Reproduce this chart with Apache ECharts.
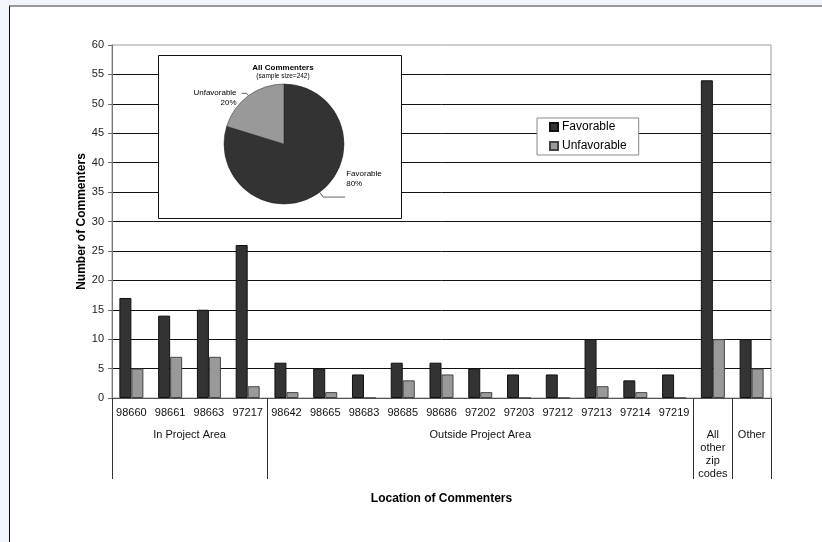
<!DOCTYPE html>
<html>
<head>
<meta charset="utf-8">
<script src="https://cdn.jsdelivr.net/npm/echarts@6/dist/echarts.min.js"></script>
<style>
  html, body { margin: 0; padding: 0; background: #f2f5fc; }
  #frame { position: absolute; left: 9px; top: 5px; width: 813px; height: 537px;
           background: #fff; border-left: 1px solid #111; border-top: 2px solid #9a9a9a; box-sizing: border-box; }
  #chart { position: absolute; left: 0; top: 0; width: 822px; height: 542px; }
</style>
</head>
<body>
<div id="frame"></div>
<div id="chart"></div>
<script>
// Commenters by zip code
const categories = ['98660', '98661', '98663', '97217', '98642', '98665', '98683', '98685', '98686',
  '97202', '97203', '97212', '97213', '97214', '97219', 'All other zip codes', 'Other'];
const favorable = [17, 14, 15, 26, 6, 5, 4, 6, 6, 5, 4, 4, 10, 3, 4, 54, 10];
const unfavorable = [5, 7, 7, 2, 1, 1, 0, 3, 4, 1, 0, 0, 2, 1, 0, 10, 5];
// categories that carry no zip label on the first axis row
const zipLabelHidden = ['All other zip codes', 'Other'];

// location groups along the bottom (boundaries in category units)
const groupNames = ['In Project Area', 'Outside Project Area', 'All\nother\nzip\ncodes', 'Other'];
const groupEdges = [0, 4, 15, 16, 17];

// overall split for the inset pie
const pieNames = ['Favorable', 'Unfavorable'];
const pieValues = [193, 49];

const yMin = 0, yMax = 60, yStep = 5;

const groupMids = groupNames.map((_, i) => (groupEdges[i] + groupEdges[i + 1]) / 2);
const FONT = 'Liberation Sans, Arial, sans-serif';
const DARK = '#333333', LIGHT = '#999999';

// leader line lengths per pie slice
const pieLineLen = [{ length: 6, length2: 22 }, { length: 3, length2: 5 }];

const chart = echarts.init(document.getElementById('chart'));
chart.setOption({
  animation: false,
  textStyle: { fontFamily: FONT },
  grid: { left: 112, right: 51, top: 45, bottom: 144, show: true, borderColor: '#9a9a9a', borderWidth: 1 },
  legend: {
    data: pieNames,
    orient: 'vertical',
    left: 537, top: 118,
    padding: [3, 12, 3, 12],
    itemWidth: 8, itemHeight: 8, itemGap: 7,
    icon: 'rect',
    backgroundColor: '#fff',
    borderColor: '#888', borderWidth: 1,
    textStyle: { fontSize: 12, color: '#000', fontFamily: FONT, padding: [0, 0, 0, -1] }
  },
  title: {
    text: 'All Commenters',
    subtext: '(sample size=242)',
    left: 278, top: 59,
    textAlign: 'center',
    itemGap: 1,
    textStyle: { fontSize: 8, fontWeight: 'bold', color: '#000', fontFamily: FONT },
    subtextStyle: { fontSize: 6.5, color: '#000', fontFamily: FONT }
  },
  xAxis: [
    {
      type: 'category',
      data: categories,
      position: 'bottom',
      axisLine: { lineStyle: { color: '#555', width: 1 } },
      axisTick: { length: 22, lineStyle: { color: '#444' } },
      axisLabel: {
        interval: 0, margin: 9, fontSize: 11, color: '#111', fontFamily: FONT,
        formatter: v => zipLabelHidden.includes(v) ? '' : v
      }
    },
    {
      type: 'value',
      min: groupEdges[0], max: groupEdges[groupEdges.length - 1],
      position: 'bottom',
      axisLine: { show: false },
      splitLine: { show: false },
      axisTick: { show: true, customValues: groupEdges, length: 81, lineStyle: { color: '#333' } },
      axisLabel: {
        customValues: groupMids, margin: 30, fontSize: 11, lineHeight: 13, color: '#111', fontFamily: FONT,
        formatter: v => groupNames[groupMids.indexOf(v)]
      },
      name: 'Location of Commenters',
      nameLocation: 'middle',
      nameGap: 95,
      nameMoveOverlap: false,
      nameTextStyle: { fontSize: 12, fontWeight: 'bold', color: '#000', fontFamily: FONT }
    }
  ],
  yAxis: {
    type: 'value',
    min: yMin, max: yMax, interval: yStep,
    axisLine: { show: true, lineStyle: { color: '#777' } },
    axisTick: { show: true, length: 4, lineStyle: { color: '#666' } },
    axisLabel: { fontSize: 11, color: '#222', margin: 8, fontFamily: FONT },
    splitLine: { show: true, showMaxLine: false, lineStyle: { color: '#111', width: 1 } },
    name: 'Number of Commenters',
    nameLocation: 'middle',
    nameGap: 24,
    nameMoveOverlap: false,
    nameTextStyle: { fontSize: 12, fontWeight: 'bold', color: '#000', fontFamily: FONT }
  },
  graphic: {
    elements: [{
      type: 'rect', z: 1,
      shape: { x: 158.5, y: 55.5, width: 243, height: 163 },
      style: { fill: '#fff', stroke: '#111', lineWidth: 1 }
    }]
  },
  series: [
    {
      name: 'Favorable', type: 'bar', data: favorable, barWidth: 12, barGap: '0%',
      itemStyle: { color: DARK, borderColor: '#111', borderWidth: 1 }, z: 3
    },
    {
      name: 'Unfavorable', type: 'bar', data: unfavorable, barWidth: 12,
      itemStyle: { color: LIGHT, borderColor: '#444', borderWidth: 1 }, z: 3
    },
    {
      type: 'pie', z: 5,
      center: [284, 144], radius: 60,
      startAngle: 90, clockwise: true,
      data: pieNames.map((n, i) => ({
        name: n, value: pieValues[i],
        itemStyle: { color: i === 0 ? DARK : LIGHT, borderColor: '#222', borderWidth: 0.5 },
        labelLine: pieLineLen[i]
      })),
      label: {
        show: true, position: 'outside',
        fontSize: 8, lineHeight: 10, color: '#000', fontFamily: FONT,
        formatter: p => p.name + '\n' + Math.round(p.percent) + '%',
        align: 'center'
      },
      labelLine: { show: true, lineStyle: { color: '#666', width: 1 } },
      labelLayout: p => p.dataIndex === 0 ? { dx: -4, dy: -18 } : { dy: 4 }
    }
  ]
});
</script>
</body>
</html>
